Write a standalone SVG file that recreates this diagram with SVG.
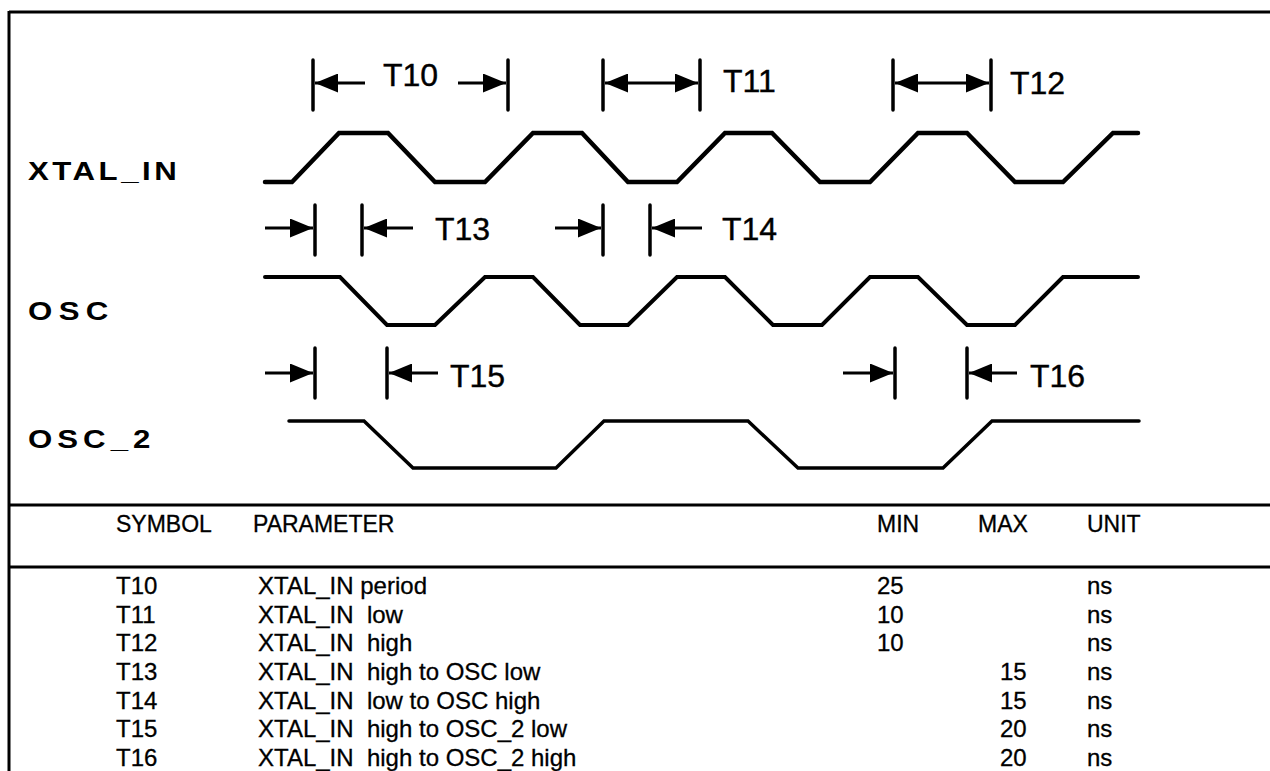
<svg xmlns="http://www.w3.org/2000/svg" width="1270" height="771" viewBox="0 0 1270 771">
<style>
.bg{fill:#fff}
.frame{stroke:#000;stroke-width:3;fill:none}
.wave{stroke:#000;fill:none;stroke-linejoin:miter;stroke-linecap:round}
.bar{stroke:#000;stroke-width:3.5;stroke-linecap:round}
.dim{stroke:#000;stroke-width:3}
.sig{font-family:"Liberation Sans",Arial,sans-serif;font-weight:bold;font-size:26px;fill:#000}
.tl{font-family:"Liberation Sans",Arial,sans-serif;font-size:32px;fill:#000;stroke:#000;stroke-width:0.4}
.tb{font-family:"Liberation Sans",Arial,sans-serif;font-size:24px;fill:#000;stroke:#000;stroke-width:0.3}
.th{font-family:"Liberation Sans",Arial,sans-serif;font-size:23px;fill:#000;stroke:#000;stroke-width:0.3}
</style>
<defs>
<marker id="ah" viewBox="0 0 23 19" refX="23" refY="9.5" markerWidth="23" markerHeight="19" markerUnits="userSpaceOnUse" orient="auto-start-reverse">
<path d="M0,0 L23,9.5 L0,19 z" fill="#000"/>
</marker>
</defs>
<rect class="bg" x="0" y="0" width="1270" height="771"/>
<g id="frame">
<line class="frame" x1="9" y1="12" x2="1270" y2="12"/>
<line class="frame" x1="9" y1="11" x2="9" y2="771"/>
<line class="frame" x1="9" y1="505" x2="1270" y2="505"/>
<line class="frame" x1="9" y1="567" x2="1270" y2="567"/>
</g>
<g id="labels">
<g id="lbl-xtal" transform="translate(28,180) scale(1.2,1)"><text class="sig" x="0" y="0" textLength="124" lengthAdjust="spacing">XTAL_IN</text></g>
<g id="lbl-osc" transform="translate(28,320) scale(1.2,1)"><text class="sig" x="0" y="0" textLength="67" lengthAdjust="spacing">OSC</text></g>
<g id="lbl-osc2" transform="translate(28,448) scale(1.2,1)"><text class="sig" x="0" y="0" textLength="102" lengthAdjust="spacing">OSC_2</text></g>
</g>
<g id="waveforms">
<polyline id="w-xtal" class="wave" stroke-width="4.5" points="265,182 292,182 339,133 388,133 435,182 485,182 533,133 582,133 628,182 677,182 725,133 772,133 820,182 870,182 918,133 967,133 1015,182 1063,182 1113,133 1138,133"/>
<polyline id="w-osc" class="wave" stroke-width="4" points="265,277 340,277 387,325 435,325 485,277 533,277 580,325 628,325 677,277 725,277 773,325 822,325 870,277 918,277 967,325 1015,325 1063,277 1138,277"/>
<polyline id="w-osc2" class="wave" stroke-width="3.5" points="289,421 364,421 413,468 556,468 604,421 748,421 798,468 943,468 992,421 1139,421"/>
</g>
<g id="connectors">
<g id="bars">
<line class="bar" x1="313" y1="60" x2="313" y2="110"/>
<line class="bar" x1="508" y1="60" x2="508" y2="110"/>
<line class="bar" x1="603" y1="60" x2="603" y2="110"/>
<line class="bar" x1="700" y1="60" x2="700" y2="110"/>
<line class="bar" x1="893" y1="60" x2="893" y2="110"/>
<line class="bar" x1="991" y1="60" x2="991" y2="110"/>
<line class="bar" x1="315" y1="205" x2="315" y2="255"/>
<line class="bar" x1="362" y1="205" x2="362" y2="255"/>
<line class="bar" x1="603" y1="205" x2="603" y2="255"/>
<line class="bar" x1="650" y1="205" x2="650" y2="255"/>
<line class="bar" x1="315" y1="348" x2="315" y2="398"/>
<line class="bar" x1="387" y1="348" x2="387" y2="398"/>
<line class="bar" x1="895" y1="348" x2="895" y2="398"/>
<line class="bar" x1="967" y1="348" x2="967" y2="398"/>
</g>
<g id="arrows">
<line class="dim" x1="365" y1="83" x2="315" y2="83" marker-end="url(#ah)"/>
<line class="dim" x1="458" y1="83" x2="506" y2="83" marker-end="url(#ah)"/>
<line class="dim" x1="605" y1="83" x2="698" y2="83" marker-start="url(#ah)" marker-end="url(#ah)"/>
<line class="dim" x1="895" y1="83" x2="989" y2="83" marker-start="url(#ah)" marker-end="url(#ah)"/>
<line class="dim" x1="265" y1="228" x2="313" y2="228" marker-end="url(#ah)"/>
<line class="dim" x1="413" y1="228" x2="364" y2="228" marker-end="url(#ah)"/>
<line class="dim" x1="555" y1="228" x2="601" y2="228" marker-end="url(#ah)"/>
<line class="dim" x1="702" y1="228" x2="652" y2="228" marker-end="url(#ah)"/>
<line class="dim" x1="265" y1="373" x2="313" y2="373" marker-end="url(#ah)"/>
<line class="dim" x1="438" y1="373" x2="389" y2="373" marker-end="url(#ah)"/>
<line class="dim" x1="843" y1="373" x2="893" y2="373" marker-end="url(#ah)"/>
<line class="dim" x1="1017" y1="373" x2="969" y2="373" marker-end="url(#ah)"/>
</g>
</g>
<g id="timing-labels">
<text class="tl" x="383" y="86">T10</text>
<text class="tl" x="723" y="92">T11</text>
<text class="tl" x="1010" y="94">T12</text>
<text class="tl" x="435" y="240">T13</text>
<text class="tl" x="722" y="240">T14</text>
<text class="tl" x="450" y="387">T15</text>
<text class="tl" x="1030" y="387">T16</text>
</g>
<g id="table">
<g id="table-header" class="th">
<text x="116" y="532">SYMBOL</text>
<text x="253" y="532">PARAMETER</text>
<text x="877" y="532">MIN</text>
<text x="978" y="532">MAX</text>
<text x="1087" y="532">UNIT</text>
</g>
<g id="table-rows" class="tb">
<text x="116" y="594">T10</text><text x="258" y="594">XTAL_IN period</text><text x="877" y="594">25</text><text x="1087" y="594">ns</text>
<text x="116" y="622.7">T11</text><text x="258" y="622.7">XTAL_IN&#160; low</text><text x="877" y="622.7">10</text><text x="1087" y="622.7">ns</text>
<text x="116" y="651.3">T12</text><text x="258" y="651.3">XTAL_IN&#160; high</text><text x="877" y="651.3">10</text><text x="1087" y="651.3">ns</text>
<text x="116" y="680">T13</text><text x="258" y="680">XTAL_IN&#160; high to OSC low</text><text x="1000" y="680">15</text><text x="1087" y="680">ns</text>
<text x="116" y="708.7">T14</text><text x="258" y="708.7">XTAL_IN&#160; low to OSC high</text><text x="1000" y="708.7">15</text><text x="1087" y="708.7">ns</text>
<text x="116" y="737.3">T15</text><text x="258" y="737.3">XTAL_IN&#160; high to OSC_2 low</text><text x="1000" y="737.3">20</text><text x="1087" y="737.3">ns</text>
<text x="116" y="766">T16</text><text x="258" y="766">XTAL_IN&#160; high to OSC_2 high</text><text x="1000" y="766">20</text><text x="1087" y="766">ns</text>
</g>
</g>
</svg>
